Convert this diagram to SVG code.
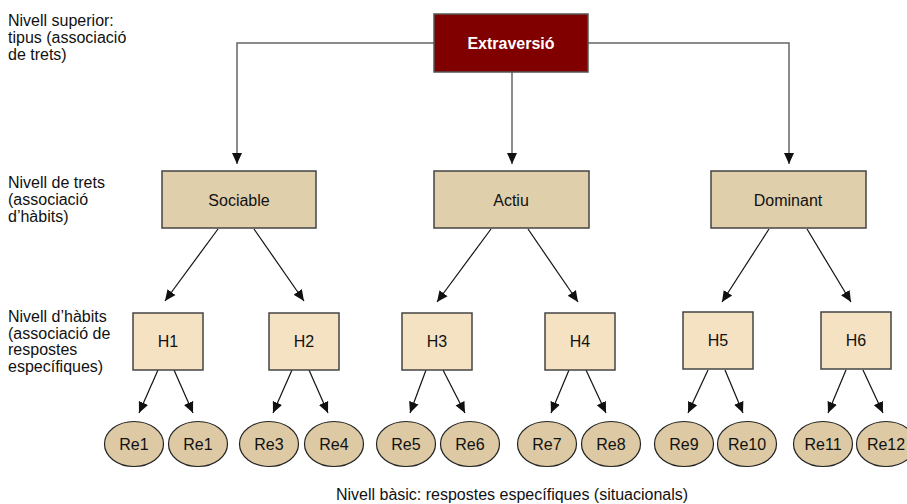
<svg xmlns="http://www.w3.org/2000/svg" width="907" height="504" viewBox="0 0 907 504">
<style>
.lbl{font-family:"Liberation Sans",Arial,sans-serif;font-size:16px;fill:#111}
.nt{font-family:"Liberation Sans",Arial,sans-serif;font-size:16px;fill:#111;text-anchor:middle;dominant-baseline:central}
.top{fill:#800000;stroke:#555;stroke-width:1.5}
.trait{fill:#e0cfab;stroke:#444;stroke-width:1.5}
.hab{fill:#f5e2c2;stroke:#444;stroke-width:1.5}
.resp{fill:#ddcaa4;stroke:#222;stroke-width:1.2}
.elb{fill:none;stroke:#666;stroke-width:1.5}
.dia{fill:none;stroke:#111;stroke-width:1.2}
</style>
<defs>
<marker id="ah" markerUnits="userSpaceOnUse" markerWidth="12" markerHeight="12" viewBox="0 0 12 12" refX="11" refY="6" orient="auto">
<path d="M0,1 L11,6 L0,11 Z" fill="#111"/>
</marker>
</defs>
<g id="level-labels">
<text class="lbl" x="8" y="26">Nivell superior:</text>
<text class="lbl" x="8" y="43">tipus (associació</text>
<text class="lbl" x="8" y="60">de trets)</text>
<text class="lbl" x="8" y="188">Nivell de trets</text>
<text class="lbl" x="8" y="205">(associació</text>
<text class="lbl" x="8" y="222">d’hàbits)</text>
<text class="lbl" x="8" y="322">Nivell d’hàbits</text>
<text class="lbl" x="8" y="339">(associació de</text>
<text class="lbl" x="8" y="355">respostes</text>
<text class="lbl" x="8" y="372">específiques)</text>
<text class="lbl" x="512" y="500" text-anchor="middle">Nivell bàsic: respostes específiques (situacionals)</text>
</g>
<g id="connectors">
<path class="elb" d="M434,43 H237 V164" marker-end="url(#ah)"/>
<path class="elb" d="M512,72 V164" marker-end="url(#ah)"/>
<path class="elb" d="M588,43 H789 V164" marker-end="url(#ah)"/>
<path class="dia" d="M218,229 L165,301" marker-end="url(#ah)"/>
<path class="dia" d="M254,229 L304,301" marker-end="url(#ah)"/>
<path class="dia" d="M491,229 L437,302" marker-end="url(#ah)"/>
<path class="dia" d="M528,229 L578,302" marker-end="url(#ah)"/>
<path class="dia" d="M769,229 L722,302" marker-end="url(#ah)"/>
<path class="dia" d="M807,229 L851,302" marker-end="url(#ah)"/>
<path class="dia" d="M158,370 L139,413" marker-end="url(#ah)"/>
<path class="dia" d="M174,370 L193,413" marker-end="url(#ah)"/>
<path class="dia" d="M292,370 L273,413" marker-end="url(#ah)"/>
<path class="dia" d="M309,370 L328,413" marker-end="url(#ah)"/>
<path class="dia" d="M426,370 L410,413" marker-end="url(#ah)"/>
<path class="dia" d="M443,370 L465,413" marker-end="url(#ah)"/>
<path class="dia" d="M569,370 L551,413" marker-end="url(#ah)"/>
<path class="dia" d="M586,370 L606,413" marker-end="url(#ah)"/>
<path class="dia" d="M708,370 L688,413" marker-end="url(#ah)"/>
<path class="dia" d="M725,370 L743,413" marker-end="url(#ah)"/>
<path class="dia" d="M846,370 L828,413" marker-end="url(#ah)"/>
<path class="dia" d="M863,370 L883,413" marker-end="url(#ah)"/>
</g>
<g id="extraversio"><rect class="top" x="434" y="14" width="154" height="58"/><text class="nt" x="511" y="43" style="fill:#fff;font-weight:bold">Extraversió</text></g>
<g id="sociable"><rect class="trait" x="162" y="171" width="154" height="57"/><text class="nt" x="239" y="200">Sociable</text></g>
<g id="actiu"><rect class="trait" x="434" y="171" width="155" height="57"/><text class="nt" x="511" y="200">Actiu</text></g>
<g id="dominant"><rect class="trait" x="711" y="171" width="155" height="57"/><text class="nt" x="788" y="200">Dominant</text></g>
<g id="h1"><rect class="hab" x="133" y="313" width="70" height="57"/><text class="nt" x="168" y="341">H1</text></g>
<g id="h2"><rect class="hab" x="269" y="313" width="70" height="57"/><text class="nt" x="304" y="341">H2</text></g>
<g id="h3"><rect class="hab" x="402" y="313" width="70" height="57"/><text class="nt" x="437" y="341">H3</text></g>
<g id="h4"><rect class="hab" x="545" y="313" width="70" height="57"/><text class="nt" x="580" y="341">H4</text></g>
<g id="h5"><rect class="hab" x="683" y="312" width="70" height="57"/><text class="nt" x="718" y="340">H5</text></g>
<g id="h6"><rect class="hab" x="821" y="312" width="70" height="57"/><text class="nt" x="856" y="340">H6</text></g>
<g id="re1a"><ellipse class="resp" cx="134" cy="444" rx="29.5" ry="22.5"/><text class="nt" x="134" y="444">Re1</text></g>
<g id="re1b"><ellipse class="resp" cx="198" cy="444" rx="29.5" ry="22.5"/><text class="nt" x="198" y="444">Re1</text></g>
<g id="re3"><ellipse class="resp" cx="269" cy="444" rx="29.5" ry="22.5"/><text class="nt" x="269" y="444">Re3</text></g>
<g id="re4"><ellipse class="resp" cx="334" cy="444" rx="29.5" ry="22.5"/><text class="nt" x="334" y="444">Re4</text></g>
<g id="re5"><ellipse class="resp" cx="406" cy="444" rx="29.5" ry="22.5"/><text class="nt" x="406" y="444">Re5</text></g>
<g id="re6"><ellipse class="resp" cx="470" cy="444" rx="29.5" ry="22.5"/><text class="nt" x="470" y="444">Re6</text></g>
<g id="re7"><ellipse class="resp" cx="547" cy="444" rx="29.5" ry="22.5"/><text class="nt" x="547" y="444">Re7</text></g>
<g id="re8"><ellipse class="resp" cx="611" cy="444" rx="29.5" ry="22.5"/><text class="nt" x="611" y="444">Re8</text></g>
<g id="re9"><ellipse class="resp" cx="684" cy="444" rx="29.5" ry="22.5"/><text class="nt" x="684" y="444">Re9</text></g>
<g id="re10"><ellipse class="resp" cx="747" cy="444" rx="29.5" ry="22.5"/><text class="nt" x="747" y="444">Re10</text></g>
<g id="re11"><ellipse class="resp" cx="823" cy="444" rx="29.5" ry="22.5"/><text class="nt" x="823" y="444">Re11</text></g>
<g id="re12"><ellipse class="resp" cx="886" cy="444" rx="29.5" ry="22.5"/><text class="nt" x="886" y="444">Re12</text></g>
</svg>
